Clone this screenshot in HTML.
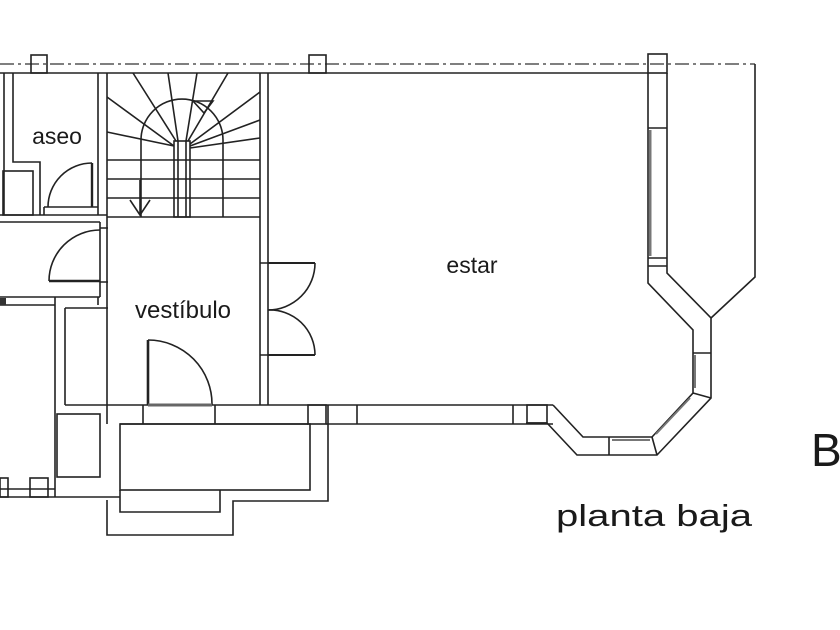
<!DOCTYPE html>
<html><head><meta charset="utf-8"><style>html,body{margin:0;padding:0;background:#fff}svg{display:block}</style></head>
<body>
<svg width="840" height="630" viewBox="0 0 840 630" xmlns="http://www.w3.org/2000/svg">
<g fill="none" stroke="#222" stroke-width="1.6">
<path d="M0 64 H755" stroke-dasharray="14 4 3 4" stroke="#555"/>
<path d="M755 64 V277 L711 318" />
<rect x="31" y="55" width="16" height="18"/>
<rect x="309" y="55" width="17" height="18"/>
<rect x="648" y="54" width="19" height="19"/>
<path d="M0 73 H648"/>
<path d="M4 73 V215"/>
<path d="M13 73 V162 H40 V215"/>
<rect x="3" y="171" width="30" height="44"/>
<path d="M98 73 V215 M0 215 H107 M0 222 H100"/>
<path d="M92 163 V207" stroke-width="2.4"/>
<path d="M92 163 A44 44 0 0 0 48 207"/>
<path d="M44 207 H98 M44 215 V207"/>
<path d="M100 230 A51 51 0 0 0 49 281"/>
<path d="M49 281 H100" stroke-width="2.4"/>
<path d="M100 222 V297 M100 228 H108 M100 282 H108"/>
<path d="M0 297 H100 M0 305 H55 M55 297 V305"/>
<rect x="0" y="298" width="6" height="7" fill="#333" stroke="none"/>
<path d="M107 73 V424 M98 297 V305"/>
<path d="M260 73 V405 M268 73 V405"/>
<path d="M107 217 H260"/>
<path d="M107 160 H260 M107 179 H260 M107 198 H260"/>
<rect x="174" y="141" width="16" height="76"/>
<path d="M178 141 V217 M186 141 V217"/>
<path d="M141 217 V140 A41 41 0 0 1 223 140 V217"/>
<path d="M174 146 L107 132 M174 146 L107 97 M176 141 L133 73 M178 141 L168 73 M186 141 L197 73 M188 141 L228 73 M190 144 L260 92 M190 146 L260 120 M190 148 L260 138"/>
<path d="M193 101 H213 L204 113 Z"/>
<path d="M130 200 L140 215 L150 200 M140 215 V180"/>
<path d="M260 263 H268 M260 355 H268"/>
<path d="M268 263 H315" stroke-width="2"/>
<path d="M315 263 A47 47 0 0 1 268 310"/>
<path d="M268 355 H315" stroke-width="2"/>
<path d="M315 355 A45 45 0 0 0 268 310"/>
<path d="M65 308 H108 M65 308 V405"/>
<path d="M55 305 V497"/>
<rect x="57" y="414" width="43" height="63"/>
<path d="M0 497 H120 M0 489 H55"/>
<rect x="30" y="478" width="18" height="19"/>
<rect x="0" y="478" width="8" height="19"/>
<path d="M65 405 H268 M268 405 H553"/>
<path d="M120 424 H308"/>
<path d="M143 405 V424 M215 405 V424"/>
<path d="M148 340 V405" stroke-width="2.6"/>
<path d="M148 340 A64 64 0 0 1 212 405"/>
<path d="M148 405 H212" stroke-width="3" stroke="#666"/>
<rect x="120" y="424" width="190" height="66"/>
<path d="M120 490 V512 H220 V490"/>
<path d="M107 500 V535 H233 V501 H328 V405"/>
<rect x="308" y="405" width="18" height="19"/>
<path d="M326 424 H553"/>
<path d="M357 405 V424 M513 405 V424"/>
<path d="M648 73 V283 L693 330 V393 L652 437 H583 L553 405"/>
<path d="M667 73 V273 L711 318 V398 L657 455 H577 L547 423 H526"/>
<rect x="527" y="405" width="20" height="18"/>
<path d="M648 128 H667 M648 258 H667 M648 266 H667"/>
<path d="M650 130 V256" stroke="#777" stroke-width="3"/>
<path d="M693 353 H711"/>
<path d="M695 355 V388" stroke="#777" stroke-width="2"/>
<path d="M693 393 L711 398"/>
<path d="M652 437 L657 455 M609 437 V455"/>
<path d="M612 440 H650" stroke="#777" stroke-width="2"/>
<path d="M656 434 L690 398" stroke="#777" stroke-width="2"/>
</g>
<g font-family="Liberation Sans, sans-serif" fill="#1a1a1a">
<text x="57" y="144" font-size="23" text-anchor="middle">aseo</text>
<text x="183" y="318" font-size="24" text-anchor="middle">vestíbulo</text>
<text x="472" y="273" font-size="23" text-anchor="middle">estar</text>
<text x="556" y="526" font-size="31" textLength="196" lengthAdjust="spacingAndGlyphs">planta baja</text>
<text x="811" y="466" font-size="46">B</text>
</g>
</svg>
</body></html>
